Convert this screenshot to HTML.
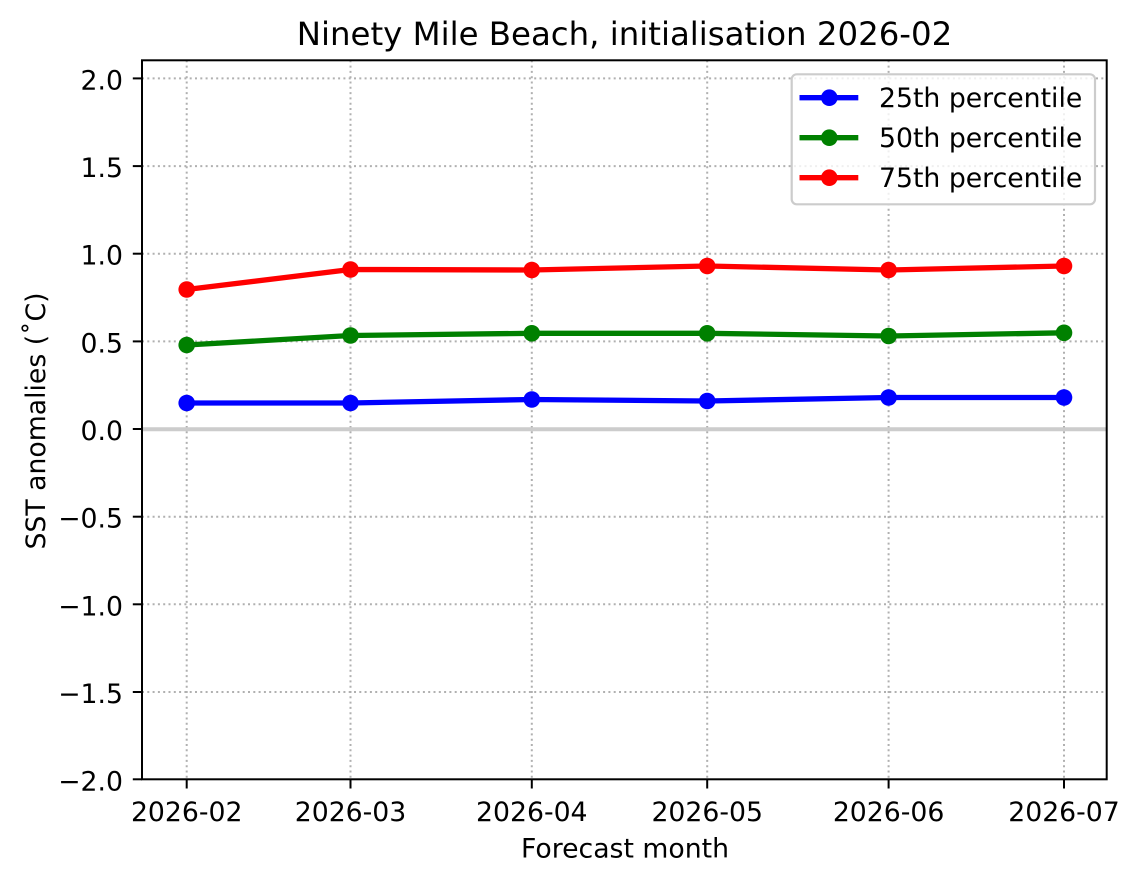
<!DOCTYPE html>
<html>
<head>
<meta charset="utf-8">
<style>
  html,body{margin:0;padding:0;background:#fff;}
  svg{display:block;}
  text{font-family:"DejaVu Sans","Liberation Sans",sans-serif;fill:#000;}
</style>
</head>
<body>
<svg width="1140" height="884" viewBox="0 0 1140 884" xmlns="http://www.w3.org/2000/svg">
  <rect x="0" y="0" width="1140" height="884" fill="#fff"/>

  <!-- grid: vertical -->
  <g stroke="#b0b0b0" stroke-width="2" stroke-dasharray="2,3.3" fill="none">
    <line x1="186.7" y1="60.3" x2="186.7" y2="779.3"/>
    <line x1="350.5" y1="60.3" x2="350.5" y2="779.3"/>
    <line x1="531.8" y1="60.3" x2="531.8" y2="779.3"/>
    <line x1="707.2" y1="60.3" x2="707.2" y2="779.3"/>
    <line x1="888.6" y1="60.3" x2="888.6" y2="779.3"/>
    <line x1="1064" y1="60.3" x2="1064" y2="779.3"/>
    <!-- horizontal -->
    <line x1="142" y1="78.4" x2="1106.7" y2="78.4"/>
    <line x1="142" y1="166.1" x2="1106.7" y2="166.1"/>
    <line x1="142" y1="253.7" x2="1106.7" y2="253.7"/>
    <line x1="142" y1="341.4" x2="1106.7" y2="341.4"/>
    <line x1="142" y1="516.7" x2="1106.7" y2="516.7"/>
    <line x1="142" y1="604.3" x2="1106.7" y2="604.3"/>
    <line x1="142" y1="692" x2="1106.7" y2="692"/>
  </g>

  <!-- zero line -->
  <line x1="142" y1="429.2" x2="1106.7" y2="429.2" stroke="#cccccc" stroke-width="4"/>

  <!-- series -->
  <g fill="none" stroke-width="5.3" stroke-linejoin="round">
    <polyline stroke="#0000ff" points="186.7,403 350.5,403 531.8,399.5 707.2,401 888.6,397.5 1064,397.5"/>
    <polyline stroke="#008000" points="186.7,345 350.5,335.5 531.8,333.3 707.2,333.3 888.6,336 1064,332.8"/>
    <polyline stroke="#ff0000" points="186.7,289.5 350.5,269.5 531.8,270 707.2,266 888.6,270 1064,266"/>
  </g>
  <g fill="#0000ff">
    <circle cx="186.7" cy="403" r="8.3"/><circle cx="350.5" cy="403" r="8.3"/><circle cx="531.8" cy="399.5" r="8.3"/>
    <circle cx="707.2" cy="401" r="8.3"/><circle cx="888.6" cy="397.5" r="8.3"/><circle cx="1064" cy="397.5" r="8.3"/>
  </g>
  <g fill="#008000">
    <circle cx="186.7" cy="345" r="8.3"/><circle cx="350.5" cy="335.5" r="8.3"/><circle cx="531.8" cy="333.3" r="8.3"/>
    <circle cx="707.2" cy="333.3" r="8.3"/><circle cx="888.6" cy="336" r="8.3"/><circle cx="1064" cy="332.8" r="8.3"/>
  </g>
  <g fill="#ff0000">
    <circle cx="186.7" cy="289.5" r="8.3"/><circle cx="350.5" cy="269.5" r="8.3"/><circle cx="531.8" cy="270" r="8.3"/>
    <circle cx="707.2" cy="266" r="8.3"/><circle cx="888.6" cy="270" r="8.3"/><circle cx="1064" cy="266" r="8.3"/>
  </g>

  <!-- legend -->
  <rect x="791.7" y="74.3" width="303.3" height="130" rx="5" ry="5" fill="#fff" fill-opacity="0.8" stroke="#cccccc" stroke-width="2.2"/>
  <line x1="799.5" y1="97.7" x2="858.3" y2="97.7" stroke="#0000ff" stroke-width="5.3"/>
  <circle cx="829.3" cy="97.7" r="8.3" fill="#0000ff"/>
  <line x1="799.5" y1="137.7" x2="858.3" y2="137.7" stroke="#008000" stroke-width="5.3"/>
  <circle cx="829.3" cy="137.7" r="8.3" fill="#008000"/>
  <line x1="799.5" y1="177.7" x2="858.3" y2="177.7" stroke="#ff0000" stroke-width="5.3"/>
  <circle cx="829.3" cy="177.7" r="8.3" fill="#ff0000"/>
  <g font-size="26.7">
    <text x="879" y="106.9">25th percentile</text>
    <text x="879" y="146.9">50th percentile</text>
    <text x="879" y="186.9">75th percentile</text>
  </g>

  <!-- spines -->
  <rect x="142" y="60.3" width="964.7" height="719" fill="none" stroke="#000" stroke-width="2"/>

  <!-- y ticks -->
  <g stroke="#000" stroke-width="2">
    <line x1="132.8" y1="78.4" x2="142" y2="78.4"/>
    <line x1="132.8" y1="166.1" x2="142" y2="166.1"/>
    <line x1="132.8" y1="253.7" x2="142" y2="253.7"/>
    <line x1="132.8" y1="341.4" x2="142" y2="341.4"/>
    <line x1="132.8" y1="429" x2="142" y2="429"/>
    <line x1="132.8" y1="516.7" x2="142" y2="516.7"/>
    <line x1="132.8" y1="604.3" x2="142" y2="604.3"/>
    <line x1="132.8" y1="692" x2="142" y2="692"/>
    <line x1="132.8" y1="779.3" x2="142" y2="779.3"/>
    <!-- x ticks -->
    <line x1="186.7" y1="779.3" x2="186.7" y2="788.5"/>
    <line x1="350.5" y1="779.3" x2="350.5" y2="788.5"/>
    <line x1="531.8" y1="779.3" x2="531.8" y2="788.5"/>
    <line x1="707.2" y1="779.3" x2="707.2" y2="788.5"/>
    <line x1="888.6" y1="779.3" x2="888.6" y2="788.5"/>
    <line x1="1064" y1="779.3" x2="1064" y2="788.5"/>
  </g>

  <g font-size="26.7" text-anchor="end">
    <text x="123" y="89.4">2.0</text>
    <text x="123" y="177.1">1.5</text>
    <text x="123" y="264.7">1.0</text>
    <text x="123" y="352.4">0.5</text>
    <text x="123" y="440">0.0</text>
    <text x="123" y="527.7">−0.5</text>
    <text x="123" y="615.3">−1.0</text>
    <text x="123" y="703">−1.5</text>
    <text x="123" y="790.3">−2.0</text>
  </g>

  <g font-size="26.7" text-anchor="middle">
    <text x="186.7" y="821">2026-02</text>
    <text x="350.5" y="821">2026-03</text>
    <text x="531.8" y="821">2026-04</text>
    <text x="707.2" y="821">2026-05</text>
    <text x="888.6" y="821">2026-06</text>
    <text x="1064" y="821">2026-07</text>
  </g>

  <!-- axis labels -->
  <text x="625" y="857.5" font-size="26.7" text-anchor="middle">Forecast month</text>
  <text transform="translate(45,421) rotate(-90)" font-size="26.7" text-anchor="middle">SST anomalies (˚C)</text>

  <!-- title -->
  <text x="624.5" y="45" font-size="32.4" text-anchor="middle">Ninety Mile Beach, initialisation 2026-02</text>
</svg>
</body>
</html>
